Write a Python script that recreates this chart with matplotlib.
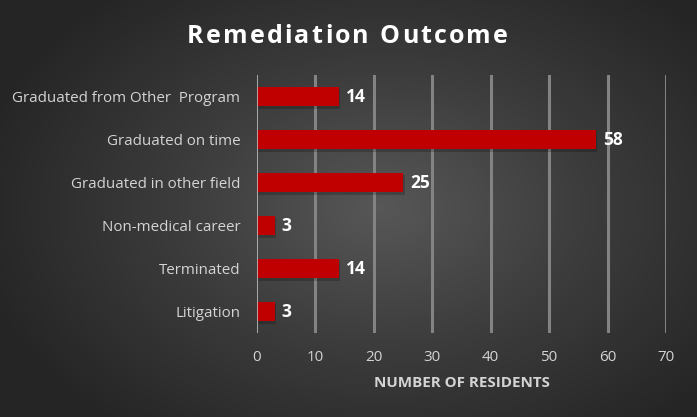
import numpy as np
import matplotlib
matplotlib.use("Agg")
import matplotlib.pyplot as plt
from matplotlib.colors import LinearSegmentedColormap

# --- data (top to bottom as in the picture)
categories = ["Graduated from Other  Program", "Graduated on time", "Graduated in other field",
              "Non-medical career", "Terminated", "Litigation"]
residents = [14, 58, 25, 3, 14, 3]
x_ticks = [0, 10, 20, 30, 40, 50, 60, 70]

fig = plt.figure(figsize=(6.97, 4.17), dpi=100)

# radial gradient background
bg = fig.add_axes([0, 0, 1, 1], zorder=0)
yy, xx = np.mgrid[-1:1:417j, -1:1:697j]
r = np.sqrt(((xx - 0.1) * 0.85) ** 2 + (yy * 0.75) ** 2)
cmap = LinearSegmentedColormap.from_list("bg", ["#575757", "#3c3c3c", "#262626"])
bg.imshow(r, cmap=cmap, vmin=0, vmax=1.0, aspect="auto", extent=[0, 1, 0, 1])
bg.axis("off")

ax = fig.add_axes([0.3687, 0.2014, 0.5868, 0.6186], zorder=1)
ax.patch.set_alpha(0)

pos = np.arange(len(categories))
# soft shadow then bar
ax.barh(pos + 0.05, residents, height=0.46, left=0.25, color="black", alpha=0.2, zorder=2)
ax.barh(pos, residents, height=0.46, color="#c00000", zorder=3)

for p, v in zip(pos, residents):
    ax.text(v + 1.2, p, str(v), va="center", ha="left", color="white",
            fontsize=12.5, fontweight="bold", family="Open Sans")

ax.set_xlim(0, 70)
ax.set_ylim(len(categories) - 0.5, -0.5)
ax.set_xticks(x_ticks)
ax.set_yticks(pos)
ax.set_yticklabels(categories, family="Open Sans", fontsize=10.9, color="#d4d4d4")
ax.set_xticklabels([str(t) for t in x_ticks], family="Open Sans", fontsize=10.9, color="#d4d4d4")
ax.tick_params(length=0, pad=12, axis="y")
ax.tick_params(length=0, pad=12, axis="x")

for t in x_ticks[1:]:
    ax.axvline(t, color="#838383", lw=2.2, zorder=1)
ax.axvline(0, color="#bdbdbd", lw=1.2, zorder=4)

for s in ax.spines.values():
    s.set_visible(False)

ax.set_xlabel("NUMBER OF RESIDENTS", family="Open Sans", fontsize=10.9, fontweight="bold",
              color="#d4d4d4", labelpad=8)

# title with extra letter spacing
title = "Remediation Outcome"
fs = 18
spacing = 2.2  # px between letters
renderer = fig.canvas.get_renderer()
widths = []
for i in range(len(title) + 1):
    t = fig.text(0, 0, title[:i] + "|", fontsize=fs, fontweight="bold", family="Open Sans")
    bar_t = fig.text(0, 0, "|", fontsize=fs, fontweight="bold", family="Open Sans")
    widths.append(t.get_window_extent(renderer).width - bar_t.get_window_extent(renderer).width)
    t.remove()
    bar_t.remove()
total = widths[-1] + spacing * (len(title) - 1)
x0 = 347.5 - total / 2
for i, ch in enumerate(title):
    fig.text((x0 + widths[i] + spacing * i) / 697, 1 - 43 / 417, ch, ha="left", va="baseline",
             color="white", fontsize=fs, fontweight="bold", family="Open Sans")

fig.savefig("out.png", dpi=100)
